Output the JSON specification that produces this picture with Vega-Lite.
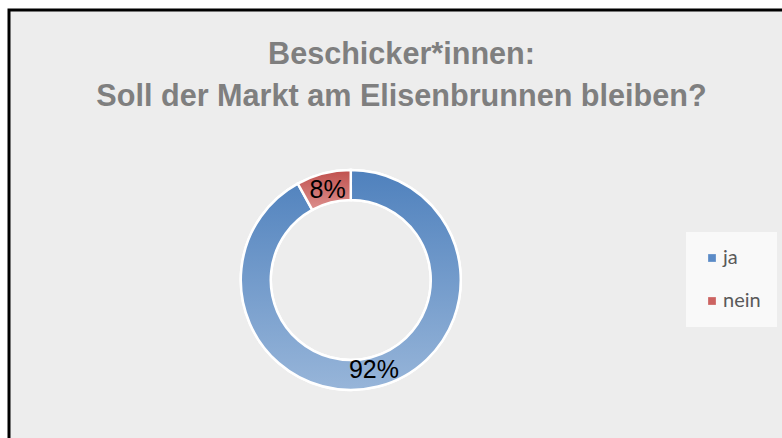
{
  "$schema": "https://vega.github.io/schema/vega-lite/v6.json",
  "width": 775,
  "height": 432,
  "autosize": {"type": "none"},
  "padding": {"left": 9, "top": 10, "right": 0, "bottom": 0},
  "background": "white",
  "view": {"fill": "#ededed", "stroke": "black", "strokeWidth": 3},
  "title": {
    "text": ["Beschicker*innen:", "Soll der Markt am Elisenbrunnen bleiben?"],
    "font": "Liberation Sans",
    "fontSize": 30.6,
    "fontWeight": "bold",
    "color": "#7f7f7f",
    "lineHeight": 42,
    "anchor": "middle",
    "frame": "group",
    "baseline": "top",
    "offset": -103,
    "dx": 5
  },
  "data": {
    "values": [
      {"k": "ja", "v": 0.92},
      {"k": "nein", "v": 0.08}
    ]
  },
  "layer": [
    {
      "mark": {"type": "arc", "outerRadius": 110, "innerRadius": 80, "x": {"expr": "width * 0.441"}, "y": {"expr": "height * 0.625"}, "stroke": "white", "strokeWidth": 2.5},
      "encoding": {
        "theta": {"field": "v", "type": "quantitative", "stack": true},
        "order": {"field": "k", "sort": "ascending"},
        "color": {
          "field": "k",
          "type": "nominal",
          "scale": {"domain": ["ja", "nein"], "range": ["#5b8bc7", "#cc6361"]},
          "legend": {
            "title": null,
            "orient": "none",
            "legendX": 677,
            "legendY": 222,
            "symbolType": "square",
            "symbolSize": 60,
            "symbolStrokeWidth": 0,
            "labelFont": "Lato",
            "labelFontSize": 20,
            "labelColor": "#595959",
            "labelOffset": 1,
            "rowPadding": 23,
            "padding": 16,
            "fillColor": "#f9f9f9"
          }
        }
      }
    },
    {
      "mark": {"type": "arc", "outerRadius": 110, "innerRadius": 80, "x": {"expr": "width * 0.441"}, "y": {"expr": "height * 0.625"}, "stroke": "white", "strokeWidth": 2.5},
      "encoding": {
        "theta": {"field": "v", "type": "quantitative", "stack": true},
        "order": {"field": "k", "sort": "ascending"},
        "fill": {
          "condition": {
            "test": "datum.k === 'ja'",
            "value": {"gradient": "linear", "x1": 0, "y1": 0, "x2": 0, "y2": 1, "stops": [{"offset": 0, "color": "#4f81bd"}, {"offset": 1, "color": "#97b5d9"}]}
          },
          "value": {"gradient": "linear", "x1": 0, "y1": 0, "x2": 0, "y2": 1, "stops": [{"offset": 0, "color": "#c0504d"}, {"offset": 1, "color": "#dc8f8d"}]}
        }
      }
    },
    {
      "mark": {"type": "text", "radius": 93, "x": {"expr": "width * 0.441"}, "y": {"expr": "height * 0.625"}, "font": "Liberation Sans", "fontSize": 25, "color": "black"},
      "encoding": {
        "theta": {"field": "v", "type": "quantitative", "stack": true},
        "order": {"field": "k", "sort": "ascending"},
        "text": {"field": "v", "type": "quantitative", "format": ".0%"}
      }
    }
  ]
}
